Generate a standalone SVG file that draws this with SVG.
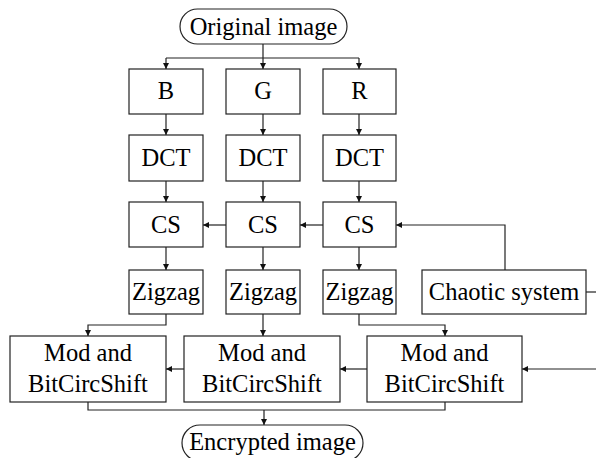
<svg xmlns="http://www.w3.org/2000/svg" width="596" height="458" viewBox="0 0 596 458">
<defs>
<marker id="ar" viewBox="0 0 10 10" refX="10" refY="5" markerWidth="7" markerHeight="6" markerUnits="userSpaceOnUse" orient="auto">
<path d="M0,0 L10,5 L0,10 z" fill="#111"/>
</marker>
<style>
.b{fill:#fff;stroke:#222;stroke-width:1.2}
.t{font-family:"Liberation Serif","Times New Roman",serif;font-size:24.5px;fill:#000;text-anchor:middle}
.c{fill:none;stroke:#222;stroke-width:1.2}
.a{marker-end:url(#ar)}
</style>
</defs>
<rect width="596" height="458" fill="#fff"/>
<g id="connectors">
<path class="c" d="M263,44 V58 M166,58 H359"/>
<path class="c a" d="M166,58 V69"/>
<path class="c a" d="M263,58 V69"/>
<path class="c a" d="M359,58 V69"/>
<path class="c a" d="M166,114 V135"/>
<path class="c a" d="M263,114 V135"/>
<path class="c a" d="M359,114 V135"/>
<path class="c a" d="M166,181 V202"/>
<path class="c a" d="M263,181 V202"/>
<path class="c a" d="M359,181 V202"/>
<path class="c a" d="M226,225 H203"/>
<path class="c a" d="M323,225 H300"/>
<path class="c a" d="M505,270 V225 H396"/>
<path class="c a" d="M166,247 V270"/>
<path class="c a" d="M263,247 V270"/>
<path class="c a" d="M359,247 V270"/>
<path class="c" d="M586,292 H596"/>
<path class="c a" d="M166,314 V325 H88 V336"/>
<path class="c a" d="M263,314 V336"/>
<path class="c a" d="M359,314 V325 H445 V336"/>
<path class="c a" d="M184,369 H166"/>
<path class="c a" d="M367,369 H340"/>
<path class="c a" d="M596,369 H522"/>
<path class="c" d="M88,402 V410 H445 V402"/>
<path class="c a" d="M264,410 V425"/>
</g>
<g id="original"><rect class="b" x="180" y="9" width="167" height="35" rx="17.5"/><text class="t" x="263.5" y="35">Original image</text></g>
<g id="B"><rect class="b" x="129" y="69" width="74" height="45"/><text class="t" x="166" y="99">B</text></g>
<g id="G"><rect class="b" x="226" y="69" width="74" height="45"/><text class="t" x="263" y="99">G</text></g>
<g id="R"><rect class="b" x="323" y="69" width="73" height="45"/><text class="t" x="359.5" y="99">R</text></g>
<g id="dctB"><rect class="b" x="129" y="135" width="74" height="46"/><text class="t" x="166" y="166">DCT</text></g>
<g id="dctG"><rect class="b" x="226" y="135" width="74" height="46"/><text class="t" x="263" y="166">DCT</text></g>
<g id="dctR"><rect class="b" x="323" y="135" width="73" height="46"/><text class="t" x="359.5" y="166">DCT</text></g>
<g id="csB"><rect class="b" x="129" y="202" width="74" height="45"/><text class="t" x="166" y="233">CS</text></g>
<g id="csG"><rect class="b" x="226" y="202" width="74" height="45"/><text class="t" x="263" y="233">CS</text></g>
<g id="csR"><rect class="b" x="323" y="202" width="73" height="45"/><text class="t" x="359.5" y="233">CS</text></g>
<g id="zzB"><rect class="b" x="129" y="270" width="74" height="44"/><text class="t" x="166" y="300">Zigzag</text></g>
<g id="zzG"><rect class="b" x="226" y="270" width="74" height="44"/><text class="t" x="263" y="300">Zigzag</text></g>
<g id="zzR"><rect class="b" x="323" y="270" width="73" height="44"/><text class="t" x="359.5" y="300">Zigzag</text></g>
<g id="chaotic"><rect class="b" x="422" y="270" width="164" height="44"/><text class="t" x="504" y="300">Chaotic system</text></g>
<g id="modB"><rect class="b" x="10" y="336" width="156" height="66"/><text class="t" x="88" y="361">Mod and</text><text class="t" x="88" y="392">BitCircShift</text></g>
<g id="modG"><rect class="b" x="184" y="336" width="156" height="66"/><text class="t" x="262" y="361">Mod and</text><text class="t" x="262" y="392">BitCircShift</text></g>
<g id="modR"><rect class="b" x="367" y="336" width="155" height="66"/><text class="t" x="444.5" y="361">Mod and</text><text class="t" x="444.5" y="392">BitCircShift</text></g>
<g id="encrypted"><rect class="b" x="182" y="425" width="181" height="36" rx="18"/><text class="t" x="272.5" y="450">Encrypted image</text></g>
</svg>
